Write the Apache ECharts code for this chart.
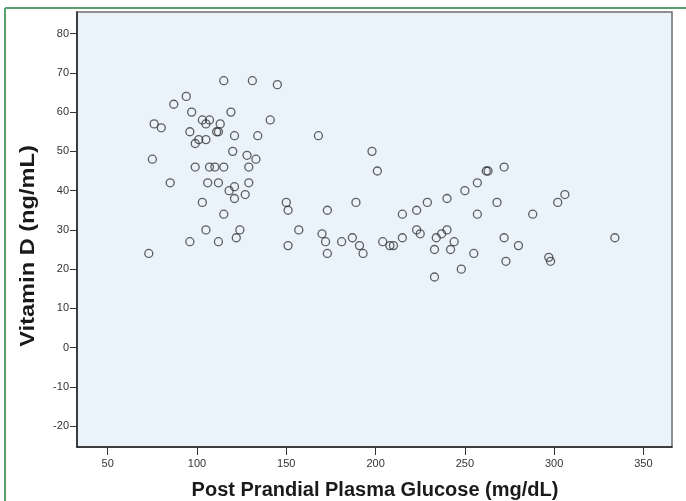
<!DOCTYPE html>
<html>
<head>
<meta charset="utf-8">
<script src="https://cdn.jsdelivr.net/npm/echarts@6/dist/echarts.min.js"></script>
<style>
html,body{margin:0;padding:0;background:#fff;}
#chart{width:686px;height:501px;}
</style>
</head>
<body>
<div id="chart"></div>
<script>
// Post Prandial Plasma Glucose (mg/dL)
const glucose = [
  115,131,145,94,87,97,119,141,76,80,103,107,105,113,96,111,112,121,134,168,
  101,105,99,120,128,133,75,99,107,110,115,129,85,106,112,129,121,118,127,121,
  103,150,151,173,115,105,124,157,170,122,172,96,112,151,173,73,
  198,201,189,215,223,223,181,187,191,193,204,208,210,215,
  229,240,250,257,262,263,272,268,257,288,302,306,225,234,237,240,244,242,233,255,
  248,233,272,280,273,297,298,334
];
// Vitamin D (ng/mL)
const vitaminD = [
  68,68,67,64,62,60,60,58,57,56,58,58,57,57,55,55,55,54,54,54,
  53,53,52,50,49,48,48,46,46,46,46,46,42,42,42,42,41,40,39,38,
  37,37,35,35,34,30,30,30,29,28,27,27,27,26,24,24,
  50,45,37,34,35,30,27,28,26,24,27,26,26,28,
  37,38,40,42,45,45,46,37,34,34,37,39,29,28,29,30,27,25,25,24,
  20,18,28,26,22,23,22,28
];
const xTicks = [50,100,150,200,250,300,350];
const yTicks = [-20,-10,0,10,20,30,40,50,60,70,80];

const points = glucose.map((g,i)=>[g, vitaminD[i]]);

const chart = echarts.init(document.getElementById('chart'), null, {renderer:'canvas'});
const labelStyle = {color:'#333', fontFamily:'Liberation Sans', fontSize:11};
chart.setOption({
  animation:false,
  backgroundColor:'#ffffff',
  grid:{left:77, right:14, top:12, bottom:54, show:true, backgroundColor:'#eaf2fa', borderColor:'#6e6e6e', borderWidth:1.5},
  xAxis:{
    type:'value', min:32.8, max:366,
    splitLine:{show:false},
    axisLine:{show:true, onZero:false, lineStyle:{color:'#222', width:1.5}},
    axisTick:{show:true, inside:false, length:8, customValues:xTicks, lineStyle:{color:'#333', width:1}},
    axisLabel:Object.assign({margin:11, customValues:xTicks, formatter:v=>String(v)}, labelStyle)
  },
  yAxis:{
    type:'value', min:-25.3, max:85.5,
    splitLine:{show:false},
    axisLine:{show:true, onZero:false, lineStyle:{color:'#222', width:1.5}},
    axisTick:{show:true, inside:false, length:7, customValues:yTicks, lineStyle:{color:'#333', width:1}},
    axisLabel:Object.assign({margin:8, customValues:yTicks, formatter:v=>String(v)}, labelStyle)
  },
  series:[{
    type:'scatter',
    data:points,
    symbol:'circle',
    symbolSize:8,
    itemStyle:{color:'rgba(0,0,0,0)', borderColor:'#3a3a3a', borderWidth:1.3}
  }],
  graphic:[
    {type:'line', shape:{x1:5, y1:8, x2:686, y2:8}, style:{stroke:'#5a9e6c', lineWidth:2}},
    {type:'line', shape:{x1:5, y1:8, x2:5, y2:501}, style:{stroke:'#5a9e6c', lineWidth:2}},
    {type:'text', x:28, y:246, rotation:Math.PI/2, scaleX:1.18, scaleY:1,
     style:{text:'Vitamin D (ng/mL)', font:'bold 20px "Liberation Sans"', fill:'#1a1a1a', textAlign:'center', textVerticalAlign:'middle'}},
    {type:'text', x:375, y:490,
     style:{text:'Post Prandial Plasma Glucose (mg/dL)', font:'bold 20px "Liberation Sans"', fill:'#1a1a1a', textAlign:'center', textVerticalAlign:'middle'}}
  ]
});
</script>
</body>
</html>
